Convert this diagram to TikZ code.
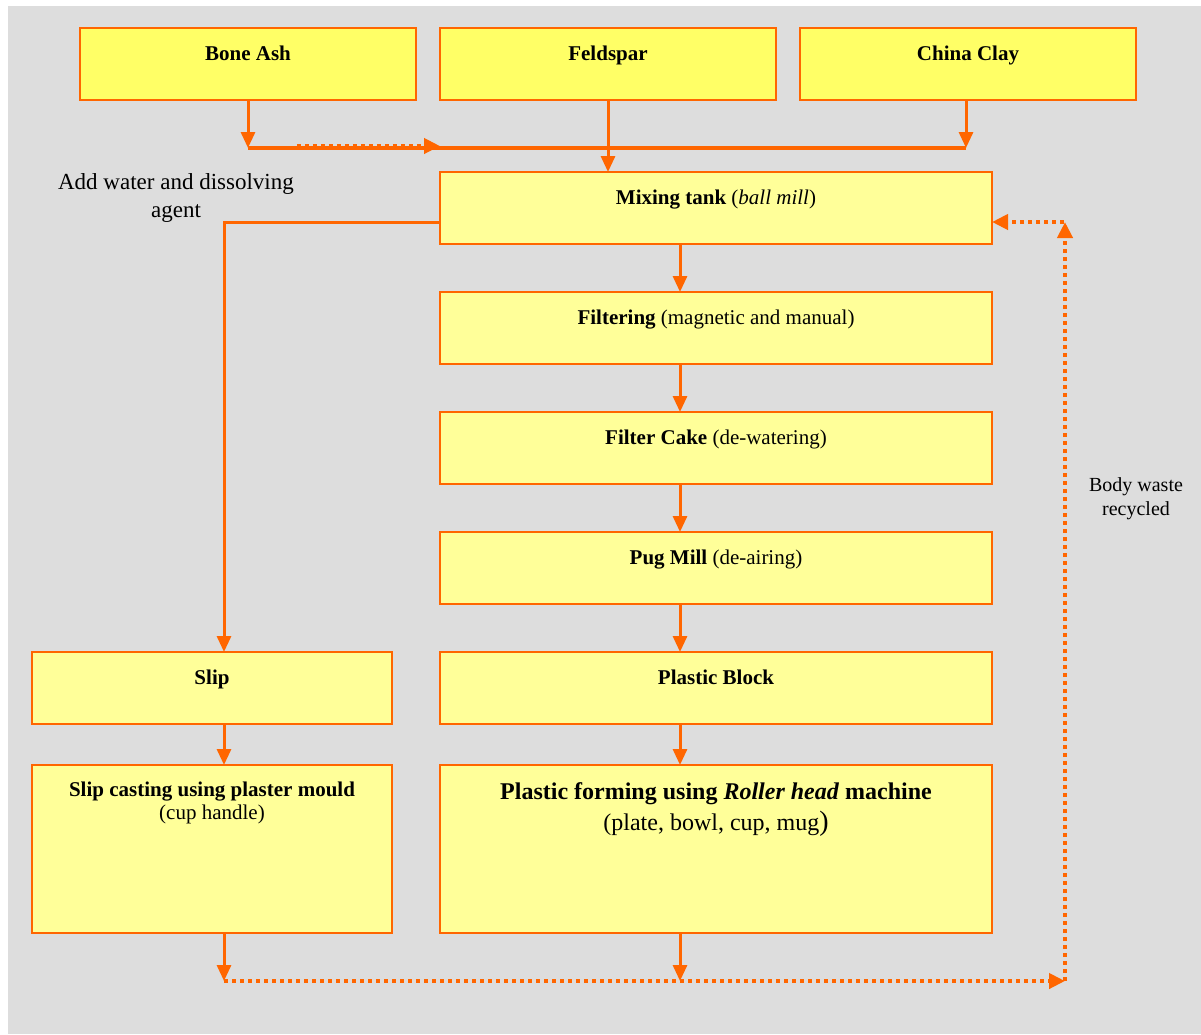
\documentclass[tikz,border=0pt]{standalone}
\usepackage{fontspec}
\setmainfont{Liberation Serif}
\usetikzlibrary{arrows.meta}
\definecolor{bgc}{HTML}{DDDDDD}
\definecolor{org}{HTML}{FF6600}
\definecolor{ylA}{HTML}{FFFF66}
\definecolor{ylB}{HTML}{FFFF99}
\begin{document}
\begin{tikzpicture}[x=1pt,y=-1pt,
  box/.style={draw=org, line width=2pt, fill=ylB, inner sep=0pt, outer sep=0pt},
  topbox/.style={box, fill=ylA, line width=2.6pt, minimum width=336, minimum height=72},
  midbox/.style={box, minimum width=552, minimum height=72},
  lbl/.style={font=\fontsize{21}{23}\selectfont, align=center, inner sep=0pt},
  blbl/.style={lbl, anchor=base},
  arr/.style={draw=org, line width=3pt, -{Triangle[length=16pt,width=14pt]}},
  ln/.style={draw=org, line width=3.5pt},
  dotarr/.style={draw=org, line width=4pt, dash pattern=on 4pt off 4pt, -{Triangle[length=16pt,width=15pt]}}
]
\useasboundingbox (0,0) rectangle (1201,1034);
\fill[bgc] (8,6) rectangle (1201,1034);

% top boxes
\node[topbox] (bone) at (248,64) {};
\node[topbox] (feld) at (608,64) {};
\node[topbox] (clay) at (968,64) {};
\node[blbl] (tbone) at (248,60) {\textbf{Bone Ash}};
\node[blbl] (tfeld) at (608,60) {\textbf{Feldspar}};
\node[blbl] (tclay) at (968,60) {\textbf{China Clay}};

% main column
\node[midbox] (mix) at (716,208) {};
\node[midbox] (filt) at (716,328) {};
\node[midbox] (cake) at (716,448) {};
\node[midbox] (pug) at (716,568) {};
\node[midbox] (block) at (716,688) {};
\node[box, minimum width=552, minimum height=168] (form) at (716,849) {};

\node[blbl] (tmix) at (716,204) {\textbf{Mixing tank} (\textit{ball mill})};
\node[blbl] (tfilt) at (716,324) {\textbf{Filtering} (magnetic and manual)};
\node[blbl] (tcake) at (716,444) {\textbf{Filter Cake} (de-watering)};
\node[blbl] (tpug) at (716,564) {\textbf{Pug Mill} (de-airing)};
\node[blbl] (tblock) at (716,684) {\textbf{Plastic Block}};
\node[lbl, font=\fontsize{24}{31}\selectfont] (tform) at (716,810)
  {\textbf{Plastic forming using \textit{Roller head} machine}\\(plate, bowl, cup, mug{\fontsize{28}{31}\selectfont)}};

% left column
\node[box, minimum width=360, minimum height=72] (slip) at (212,688) {};
\node[box, minimum width=360, minimum height=168] (cast) at (212,849) {};
\node[blbl] (tslip) at (212,684) {\textbf{Slip}};
\node[lbl] (tcast) at (212,803) {\textbf{Slip casting using plaster mould}\\(cup handle)};

% side labels
\node[lbl, font=\fontsize{23}{28}\selectfont] (water) at (176,198) {Add water and dissolving\\agent};
\node[lbl, font=\fontsize{20}{24}\selectfont] (waste) at (1136,499) {Body waste\\recycled};

% coordinates
\coordinate (j1) at (248,148);
\coordinate (j3) at (966,148);
\coordinate (d1) at (297,146);
\coordinate (d2) at (440,146);
\coordinate (s1) at (224,222);
\coordinate (b1) at (224,981);
\coordinate (b2) at (680,981);
\coordinate (b3) at (1065,981);
\coordinate (b4) at (1065,222);

% top connectors
\draw[ln] (j1) -- (j3);
\draw[arr] (bone.south) -- (j1);
\draw[arr] (j3 |- clay.south) -- (j3);
\draw[dotarr] (d1) -- (d2);
\draw[arr] (feld.south) -- (feld.south |- mix.north);

% main column connectors
\draw[arr] ([xshift=-36pt]mix.south) -- ([xshift=-36pt]filt.north);
\draw[arr] ([xshift=-36pt]filt.south) -- ([xshift=-36pt]cake.north);
\draw[arr] ([xshift=-36pt]cake.south) -- ([xshift=-36pt]pug.north);
\draw[arr] ([xshift=-36pt]pug.south) -- ([xshift=-36pt]block.north);
\draw[arr] ([xshift=-36pt]block.south) -- ([xshift=-36pt]form.north);

% slip branch
\draw[arr] (mix.west |- s1) -- (s1) -- ([xshift=12pt]slip.north);
\draw[arr] ([xshift=12pt]slip.south) -- ([xshift=12pt]cast.north);

% bottom recycle
\draw[arr] ([xshift=12pt]cast.south) -- (b1);
\draw[arr] ([xshift=-36pt]form.south) -- (b2);
\draw[dotarr] (b1) -- (b3);
\draw[dotarr] (b3) -- (b4);
\draw[dotarr, shorten <=1pt] (b4) -- (mix.east |- b4);
\end{tikzpicture}
\end{document}
